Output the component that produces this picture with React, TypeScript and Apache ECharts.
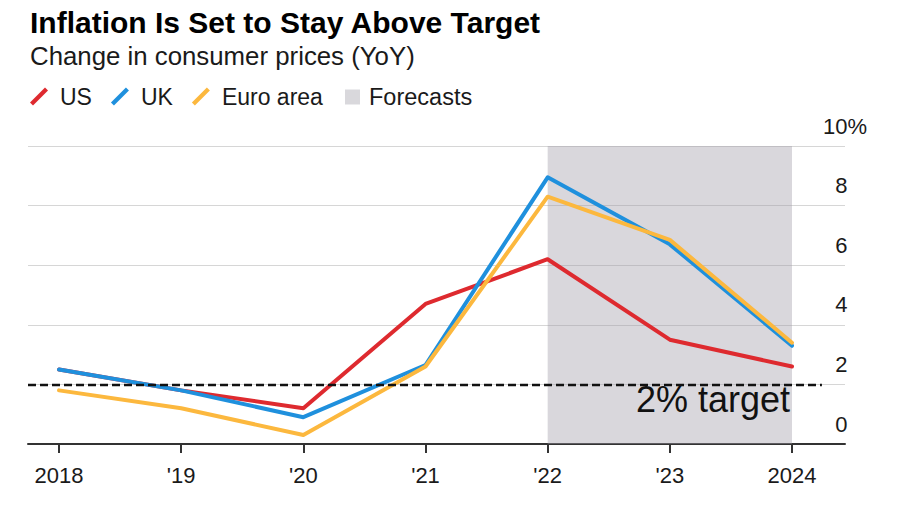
import React, { useEffect, useRef } from "react";
import * as echarts from "echarts";

const years = [2018, 2019, 2020, 2021, 2022, 2023, 2024];
const tickLabels = ["2018", "'19", "'20", "'21", "'22", "'23", "2024"];
const usValues = [2.5, 1.8, 1.2, 4.7, 6.2, 3.5, 2.6];
const ukValues = [2.5, 1.8, 0.9, 2.65, 8.95, 6.7, 3.3];
const euroValues = [1.8, 1.2, 0.3, 2.6, 8.3, 6.85, 3.4];
const forecastRange = [2022, 2024];
const targetValue = 2;
const yTicks = [0, 2, 4, 6, 8, 10];

const FONT = "'Liberation Sans', Arial, Helvetica, sans-serif";
const TEXT = "#1a1a1a";
const SLASH = "path://M0,15 L15,0 L18,3 L3,18 Z";

export default function App() {
  const ref = useRef<HTMLDivElement>(null);
  useEffect(() => {
    document.body.style.margin = "0";
    if (!ref.current) return;
    const chart = echarts.init(ref.current, undefined, { renderer: "svg" });
    const pair = (vals: number[]) => years.map((y, i) => [y, vals[i]]);
    const xMin = 2017.746;
    const xMax = 2024.434;
    const lineSeries = (name: string, color: string, vals: number[]) => ({
      name,
      type: "line",
      data: pair(vals),
      symbol: "none",
      color,
      lineStyle: { width: 4, color, cap: "round", join: "round" },
      z: 3,
    });
    chart.setOption({
      animation: false,
      textStyle: { fontFamily: FONT },
      title: {
        text: "Inflation Is Set to Stay Above Target",
        subtext: "Change in consumer prices (YoY)",
        left: 25,
        top: 2,
        itemGap: 6,
        textStyle: { fontSize: 30, fontWeight: "bold", color: "#000", fontFamily: FONT },
        subtextStyle: { fontSize: 25.8, color: TEXT, fontFamily: FONT },
      },
      legend: [
        {
          left: 25,
          top: 80,
          itemWidth: 20,
          itemHeight: 18,
          itemGap: 19,
          textStyle: { fontSize: 23, color: TEXT, padding: [0, 0, 0, 6], fontFamily: FONT },
          data: [
            { name: "US", icon: SLASH },
            { name: "UK", icon: SLASH },
            { name: "Euro area", icon: SLASH },
          ],
        },
        {
          left: 340,
          top: 80,
          itemWidth: 15,
          itemHeight: 15,
          textStyle: { fontSize: 23.5, color: TEXT, padding: [0, 0, 0, 4], fontFamily: FONT },
          data: [{ name: "Forecasts", icon: "rect" }],
        },
      ],
      grid: { left: 28, right: 55, top: 146, bottom: 66 },
      xAxis: {
        type: "value",
        min: xMin,
        max: xMax,
        splitLine: { show: false },
        axisLine: { show: true, lineStyle: { color: "#333", width: 2 } },
        axisTick: { show: true, length: 9, lineStyle: { color: "#333", width: 2 }, customValues: years },
        axisLabel: {
          customValues: years,
          fontSize: 22,
          color: TEXT,
          margin: 20,
          formatter: (v: number) => {
            const i = years.indexOf(Math.round(v));
            return i >= 0 ? tickLabels[i] : "";
          },
        },
      },
      yAxis: {
        type: "value",
        position: "right",
        min: yTicks[0],
        max: yTicks[yTicks.length - 1],
        interval: 2,
        axisLine: { show: false },
        axisTick: { show: false },
        splitLine: { lineStyle: { color: "#d6d6d6", width: 1.2 } },
        axisLabel: {
          align: "right",
          verticalAlign: "bottom",
          margin: 22,
          padding: [0, 0, 9, 0],
          formatter: (v: number) => (v === yTicks[yTicks.length - 1] ? `{n|${v}}{p|%}` : `{n|${v}}{h|%}`),
          rich: {
            n: { fontSize: 22, color: TEXT, fontFamily: FONT },
            p: { fontSize: 22, color: TEXT, fontFamily: FONT },
            h: { fontSize: 22, color: "rgba(0,0,0,0)", fontFamily: FONT },
          },
        },
      },
      series: [
        {
          name: "Forecasts",
          type: "line",
          data: [],
          color: "#d9d8dc",
          symbol: "none",
          z: 1,
          markArea: {
            silent: true,
            itemStyle: { color: "rgba(160,156,168,0.4)" },
            data: [[{ xAxis: forecastRange[0], yAxis: yTicks[0] }, { xAxis: forecastRange[1], yAxis: yTicks[yTicks.length - 1] }]],
          },
          markLine: {
            silent: true,
            symbol: "none",
            label: { show: false },
            lineStyle: { color: "#111", width: 2.4, type: [8, 4] },
            data: [[{ coord: [xMin, targetValue] }, { coord: [2024.245, targetValue] }]],
          },
        },
        lineSeries("US", "#de2a2f", usValues),
        lineSeries("UK", "#1f90dd", ukValues),
        lineSeries("Euro area", "#fcb83e", euroValues),
      ],
      graphic: [
        {
          type: "text",
          x: 790,
          y: 399,
          z: 10,
          style: {
            text: "2% target",
            fontSize: 36,
            fontFamily: FONT,
            fill: "#111",
            align: "right",
            verticalAlign: "middle",
          },
        },
      ],
    });
    return () => chart.dispose();
  }, []);
  return <div ref={ref} style={{ width: 900, height: 510 }} />;
}
